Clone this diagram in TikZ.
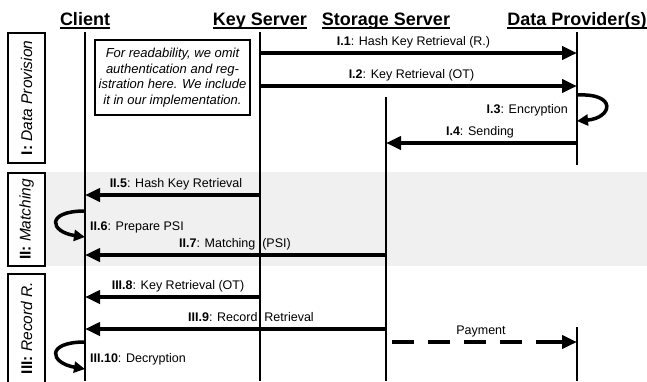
\documentclass[tikz,border=0pt]{standalone}
\usepackage{fontspec}
\setmainfont{Liberation Sans}
\usetikzlibrary{arrows.meta}

\tikzset{
	lifeline/.style={line width=2pt},
	msg/.style={line width=4pt, -{Triangle[length=15pt,width=13pt]}},
	loopmsg/.style={line width=3.5pt, -{Triangle[length=11pt,width=11pt]}},
	lbl/.style={font=\fontsize{12.5}{14}\selectfont, inner sep=0pt, anchor=base},
	actor/.style={font=\fontsize{18}{20}\selectfont\bfseries, inner sep=0pt, anchor=base},
	phasebox/.style={draw, line width=2pt, fill=white},
	phasetxt/.style={rotate=90, inner sep=0pt, font=\fontsize{15.5}{17}\selectfont},
}

\begin{document}
\begin{tikzpicture}[x=1pt, y=-1pt]
	\useasboundingbox (0,0) rectangle (647,381);
	% matching band
	\fill[black!6] (8,172) rectangle (647,266);
	% phases
	\draw[phasebox] (8,33) rectangle (45,163);
	\node[phasetxt] (ph1) at (26.5,98) {\textbf{I:} \textit{Data Provision}};
	\draw[phasebox] (8,173) rectangle (45,266);
	\node[phasetxt] (ph2) at (26.5,219.5) {\textbf{II:} \textit{Matching}};
	\draw[phasebox] (8,274) rectangle (45,395);
	\node[phasetxt] (ph3) at (26.5,328) {\textbf{III:} \textit{Record R.}};
	% parties
	\node[actor] (client) at (85,25) {Client};
	\node[actor] (keysrv) at (260,25) {Key Server};
	\node[actor] (storage) at (386,25) {Storage Server};
	\node[actor] (provider) at (577,25) {Data Provider(s)};
	\foreach \p in {client, keysrv, storage, provider}
		\draw[line width=1.6pt] ([yshift=-3pt]\p.base west) -- ([yshift=-3pt]\p.base east);
	% lifelines
	\draw[lifeline] (client |- 0,32) -- (client |- 0,381);
	\draw[lifeline] (keysrv |- 0,32) -- (keysrv |- 0,381);
	\draw[lifeline] (storage |- 0,97) -- (storage |- 0,381);
	\draw[lifeline] (provider |- 0,32) -- (provider |- 0,165);
	\draw[lifeline] (provider |- 0,327) -- (provider |- 0,381);
	% note
	\node[draw, line width=2pt, fill=white, minimum width=155pt, minimum height=75pt, align=center,
		font=\fontsize{13}{15.5}\selectfont\itshape] (note) at (172.5,77.5)
		{For readability, we omit\\authentication and reg-\\istration here. We include\\it in our implementation.};
	% I: data provision
	\draw[msg] (keysrv |- 0,53) -- (provider |- 0,53);
	\node[lbl] (m1) at (413.5,45) {\textbf{I.1}: Hash Key Retrieval (R.)};
	\draw[msg] (keysrv |- 0,86) -- (provider |- 0,86);
	\node[lbl] (m2) at (411.5,78) {\textbf{I.2}: Key Retrieval (OT)};
	\draw[loopmsg] (provider |- 0,95) .. controls (618,93) and (612,118) .. (provider |- 0,121);
	\node[lbl, anchor=base east] (m3) at (568,113.5) {\textbf{I.3}: Encryption};
	\draw[msg] (provider |- 0,143) -- (storage |- 0,143);
	\node[lbl] (m4) at (480,135) {\textbf{I.4}: Sending};
	% II: matching
	\draw[msg] (keysrv |- 0,195) -- (client |- 0,195);
	\node[lbl] (m5) at (176,187) {\textbf{II.5}: Hash Key Retrieval};
	\draw[loopmsg] (client |- 0,211) .. controls (45,211) and (50,232) .. (client |- 0,237);
	\node[lbl, anchor=base west] (m6) at (90,230) {\textbf{II.6}: Prepare PSI};
	\draw[msg] (storage |- 0,255) -- (client |- 0,255);
	\node[lbl] (m7) at (235,247) {\textbf{II.7}: Matching\ \ (PSI)};
	% III: record retrieval
	\draw[msg] (keysrv |- 0,297) -- (client |- 0,297);
	\node[lbl] (m8) at (178,289) {\textbf{III.8}: Key Retrieval (OT)};
	\draw[msg] (storage |- 0,329) -- (client |- 0,329);
	\node[lbl] (m9) at (251,321) {\textbf{III.9}: Record\ \ Retrieval};
	\draw[line width=4pt, dash pattern=on 22pt off 14pt] (392,342) -- (560,342);
	\draw[msg] (558,342) -- (provider |- 0,342);
	\node[lbl] (pay) at (481,334) {Payment};
	\draw[loopmsg] (client |- 0,342) .. controls (45,342) and (50,363) .. (client |- 0,369);
	\node[lbl, anchor=base west] (m10) at (90,362) {\textbf{III.10}: Decryption};
\end{tikzpicture}
\end{document}
